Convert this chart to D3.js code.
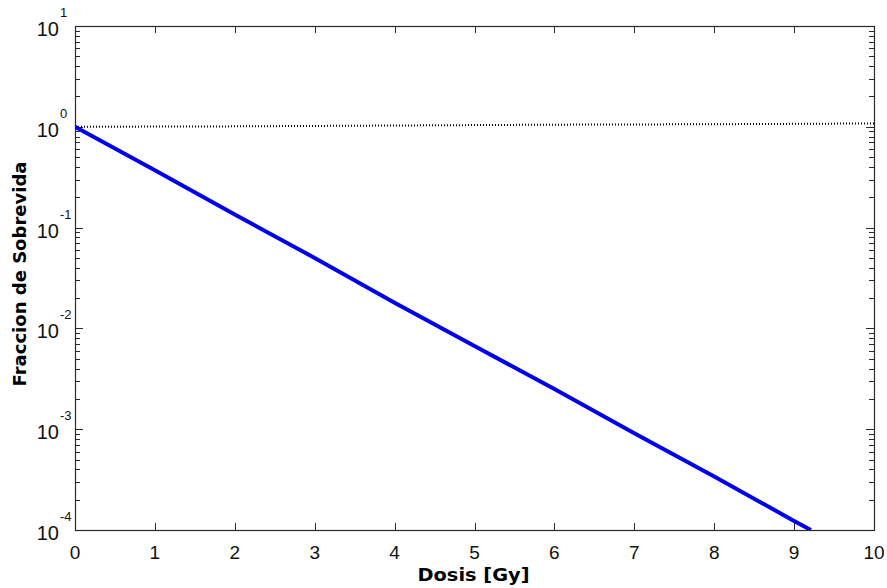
<!DOCTYPE html>
<html>
<head>
<meta charset="utf-8">
<script src="https://cdn.jsdelivr.net/npm/d3@7"></script>
<style>
  body { margin: 0; background: #fff; }
  svg { display: block; font-family: "Liberation Sans", Arial, sans-serif; }
</style>
</head>
<body>
<svg width="887" height="588"></svg>
<script>
// survival curve (blue, solid)
var doses = [0, 1, 2, 3, 4, 5, 6, 7, 8, 9, 9.21];
var survival = [1, 0.37, 0.135, 0.05, 0.018, 0.0067, 0.0025, 0.00091, 0.00034, 0.000123, 0.0001];

// reference curve (black, dotted)
var refDoses = [0, 2, 4, 6, 8, 10];
var refValues = [1.0, 1.01, 1.03, 1.05, 1.06, 1.08];

var xTicks = [0, 1, 2, 3, 4, 5, 6, 7, 8, 9, 10];
var yExponents = [1, 0, -1, -2, -3, -4];

var svg = d3.select("svg");
var margin = {left: 75, right: 13, top: 26, bottom: 58};
var width = 887 - margin.left - margin.right,
    height = 588 - margin.top - margin.bottom;

var x = d3.scaleLinear().domain([0, 10]).range([0, width]);
var y = d3.scaleLog().domain([1e-4, 10]).range([height, 0]);

var g = svg.append("g")
    .attr("transform", "translate(" + margin.left + "," + margin.top + ")");

g.append("clipPath").attr("id", "clip")
  .append("rect").attr("width", width).attr("height", height);

var axisColor = "#2a2a2a";

// minor ticks for log axis (left and right, inside)
var minor = [];
yExponents.forEach(function (e) {
    if (e === 1) return;
    for (var m = 2; m <= 9; m++) minor.push(m * Math.pow(10, e));
});

var ticks = g.append("g").attr("stroke", axisColor).attr("stroke-width", 1);
minor.forEach(function (v) {
    var yy = Math.round(y(v)) + 0.5;
    ticks.append("line").attr("x1", 0).attr("x2", 5).attr("y1", yy).attr("y2", yy);
    ticks.append("line").attr("x1", width).attr("x2", width - 5).attr("y1", yy).attr("y2", yy);
});
yExponents.forEach(function (e) {
    var yy = Math.round(y(Math.pow(10, e))) + 0.5;
    ticks.append("line").attr("x1", 0).attr("x2", 8).attr("y1", yy).attr("y2", yy);
    ticks.append("line").attr("x1", width).attr("x2", width - 8).attr("y1", yy).attr("y2", yy);
});
xTicks.forEach(function (t) {
    var xx = Math.round(x(t)) + 0.5;
    ticks.append("line").attr("x1", xx).attr("x2", xx).attr("y1", height).attr("y2", height - 7);
    ticks.append("line").attr("x1", xx).attr("x2", xx).attr("y1", 0).attr("y2", 7);
});

// frame
g.append("rect")
    .attr("x", 0.5).attr("y", 0.5)
    .attr("width", width).attr("height", height)
    .attr("fill", "none").attr("stroke", axisColor).attr("stroke-width", 1.2);

// lines
var line = d3.line()
    .x(function (d) { return x(d[0]); })
    .y(function (d) { return y(d[1]); });

g.append("path")
    .datum(d3.zip(refDoses, refValues))
    .attr("clip-path", "url(#clip)")
    .attr("d", line)
    .attr("fill", "none")
    .attr("stroke", "#000")
    .attr("stroke-width", 2)
    .attr("stroke-dasharray", "1,2");

g.append("path")
    .datum(d3.zip(doses, survival))
    .attr("clip-path", "url(#clip)")
    .attr("d", line)
    .attr("fill", "none")
    .attr("stroke", "#0000ee")
    .attr("stroke-width", 4);

// x tick labels
g.append("g").selectAll("text")
    .data(xTicks)
    .enter().append("text")
    .attr("x", function (d) { return x(d); })
    .attr("y", height + 29)
    .attr("text-anchor", "middle")
    .attr("font-size", 19)
    .attr("fill", "#111")
    .text(function (d) { return d; });

// y tick labels 10^n
var yl = g.append("g").selectAll("g")
    .data(yExponents)
    .enter().append("g")
    .attr("transform", function (d) { return "translate(0," + y(Math.pow(10, d)) + ")"; });
yl.append("text")
    .attr("x", -16).attr("y", 10)
    .attr("text-anchor", "end")
    .attr("font-size", 20)
    .attr("fill", "#111")
    .text("10");
yl.append("text")
    .attr("x", -15).attr("y", -9)
    .attr("text-anchor", "start")
    .attr("font-size", 13)
    .attr("fill", "#111")
    .text(function (d) { return d; });

// axis titles
svg.append("text")
    .attr("x", margin.left + x(5) - 1)
    .attr("y", 581)
    .attr("text-anchor", "middle")
    .attr("font-family", "'DejaVu Sans', sans-serif")
    .attr("font-size", 18)
    .attr("font-weight", "bold")
    .attr("textLength", 112)
    .attr("lengthAdjust", "spacingAndGlyphs")
    .text("Dosis [Gy]");

svg.append("text")
    .attr("transform", "translate(26,274) rotate(-90)")
    .attr("text-anchor", "middle")
    .attr("font-family", "'DejaVu Sans', sans-serif")
    .attr("font-size", 18)
    .attr("font-weight", "bold")
    .attr("textLength", 225)
    .attr("lengthAdjust", "spacingAndGlyphs")
    .text("Fraccion de Sobrevida");
</script>
</body>
</html>
